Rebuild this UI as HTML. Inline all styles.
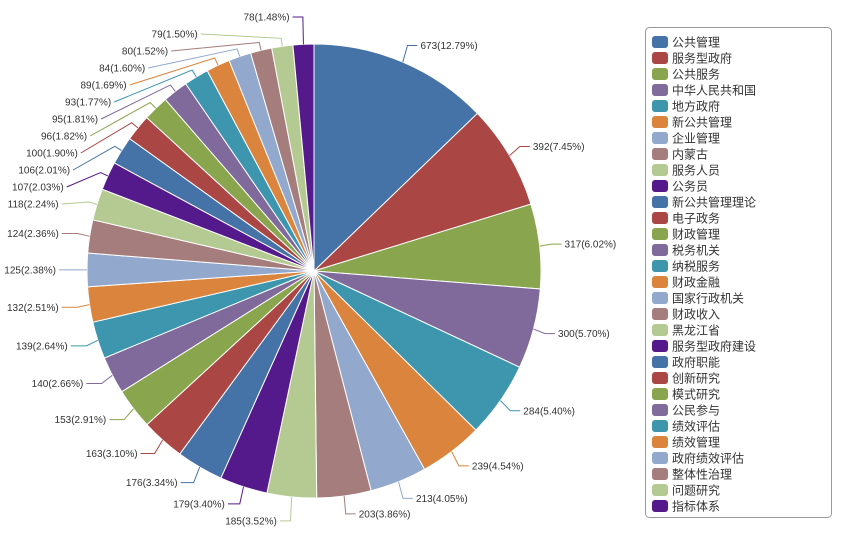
<!DOCTYPE html>
<html><head><meta charset="utf-8">
<style>
body{margin:0;background:#fff;width:842px;height:555px;overflow:hidden;font-family:"Liberation Sans","Noto Sans CJK SC",sans-serif;}
svg{display:block}
</style></head>
<body>
<svg id="chart" width="842" height="555" xmlns="http://www.w3.org/2000/svg"></svg>
<script>
const categories=["公共管理","服务型政府","公共服务","中华人民共和国","地方政府","新公共管理","企业管理","内蒙古","服务人员","公务员","新公共管理理论","电子政务","财政管理","税务机关","纳税服务","财政金融","国家行政机关","财政收入","黑龙江省","服务型政府建设","政府职能","创新研究","模式研究","公民参与","绩效评估","绩效管理","政府绩效评估","整体性治理","问题研究","指标体系"];
const values=[673,392,317,300,284,239,213,203,185,179,176,163,153,140,139,132,125,124,118,107,106,100,96,95,93,89,84,80,79,78];
const palette=["#4572A7","#AA4643","#89A54E","#80699B","#3D96AE","#DB843D","#92A8CD","#A47D7C","#B5CA92","#541A8B"];
const svg=document.getElementById('chart');
const NS="http://www.w3.org/2000/svg";
const cx=314,cy=271,r=227;
const total=values.reduce((a,b)=>a+b,0);
function mk(t,attrs,parent){const e=document.createElementNS(NS,t);for(const k in attrs)e.setAttribute(k,attrs[k]);(parent||svg).appendChild(e);return e;}
let a=-Math.PI/2;
const labels=[];
values.forEach((v,i)=>{
  const sweep=v/total*2*Math.PI;
  const a0=a,a1=a+sweep;a=a1;
  const x0=cx+r*Math.cos(a0),y0=cy+r*Math.sin(a0),x1=cx+r*Math.cos(a1),y1=cy+r*Math.sin(a1);
  const p=mk('path',{d:`M${cx},${cy}L${x0},${y0}A${r},${r} 0 ${sweep>Math.PI?1:0} 1 ${x1},${y1}Z`,fill:palette[i%10],stroke:'#fff','stroke-width':1});
  
  
  const m=(a0+a1)/2;
  const ny=cy+(r+18)*Math.sin(m);
  labels.push({i,m,color:palette[i%10],text:v+'('+(v/total*100).toFixed(2)+'%)',ny,ly:ny,right:Math.cos(m)>=0});
});
const left=labels.filter(l=>!l.right).sort((p,q)=>p.ly-q.ly);
if(left.length)left[0].ly=17;
for(let k=1;k<left.length;k++){if(left[k].ly<left[k-1].ly+17)left[k].ly=left[k-1].ly+17;}
labels.forEach(l=>{
  const ex=cx+r*Math.cos(l.m),ey=cy+r*Math.sin(l.m);
  let pts;
  let tx;
  if(l.right){
    const bx=cx+(r+12)*Math.cos(l.m);
    tx=bx+10;
    pts=`${ex},${ey} ${bx},${l.ly} ${tx},${l.ly}`;
  } else if(l.ly>25 && l.ly<210){
    const dy=l.ly-cy;
    tx=cx-Math.sqrt(Math.max(0,264*264-dy*dy))+3;
    const mx=cx+(r+8)*Math.cos(l.m),my=cy+(r+8)*Math.sin(l.m);
    pts=`${ex},${ey} ${mx},${my} ${tx},${l.ly}`;
  } else {
    const bx=cx+(r+12)*Math.cos(l.m);
    tx=Math.min(bx-10,cx+(r+18)*Math.cos(l.m)-10);
    pts=`${ex},${ey} ${bx},${l.ly} ${tx},${l.ly}`;
  }
  const line=mk('polyline',{points:pts,fill:'none',stroke:l.color,'stroke-width':1});
  
  
  const t=mk('text',{x:l.right?tx+3:tx-3,y:l.ly+3.5,'font-size':10,fill:'#333','text-anchor':l.right?'start':'end'});
  t.textContent=l.text;
  
  
});
const lg=mk('rect',{x:645.5,y:27.5,width:186,height:490,rx:4,fill:'#fff',stroke:'#999'});


categories.forEach((c,i)=>{
  const y=42+i*16;
  const g=mk('g',{});
  
  
  mk('rect',{x:652,y:y-6,width:16,height:12,rx:3,fill:palette[i%10]},g);
  const t=mk('text',{x:672,y:y+4.5,'font-size':12,fill:'#333'},g);
  t.textContent=c;
});
</script>
</body></html>
